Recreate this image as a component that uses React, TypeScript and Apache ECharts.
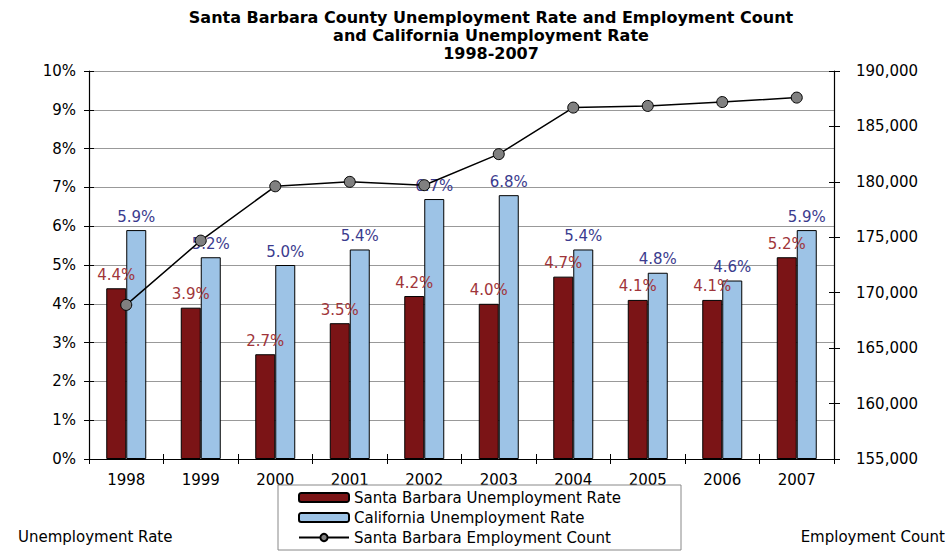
import React, { useEffect, useRef } from "react";
import * as echarts from "echarts";

const years = ["1998", "1999", "2000", "2001", "2002", "2003", "2004", "2005", "2006", "2007"];
const sbRate = [4.4, 3.9, 2.7, 3.5, 4.2, 4.0, 4.7, 4.1, 4.1, 5.2];
const caRate = [5.9, 5.2, 5.0, 5.4, 6.7, 6.8, 5.4, 4.8, 4.6, 5.9];
const sbEmployment = [168900, 174700, 179600, 180000, 179700, 182500, 186700, 186850, 187200, 187600];

const FONT = "DejaVu Sans";
const FS = 15;

export default function App() {
  const ref = useRef<HTMLDivElement>(null);
  useEffect(() => {
    if (!ref.current) return;
    const chart = echarts.init(ref.current, undefined, { renderer: "svg" });
    const axisCommon = {
      axisLine: { show: true, lineStyle: { color: "#000", width: 1.2 } },
    };
    chart.setOption({
      animation: false,
      backgroundColor: "#fff",
      title: {
        text: "Santa Barbara County Unemployment Rate and Employment Count\nand California Unemployment Rate\n1998-2007",
        left: 486,
        textAlign: "center",
        top: 3,
        textStyle: { fontFamily: FONT, fontWeight: "bold", fontSize: 16, lineHeight: 18, color: "#000" },
      },
      legend: {
        orient: "vertical",
        left: 278,
        top: 485,
        padding: [5, 60, 5, 20],
        itemGap: 5,
        itemWidth: 50,
        itemHeight: 9,
        borderColor: "#888",
        borderWidth: 1,
        textStyle: { fontFamily: FONT, fontSize: FS, color: "#000" },
        data: [
          { name: "Santa Barbara Unemployment Rate" },
          { name: "California Unemployment Rate" },
          { name: "Santa Barbara Employment Count" },
        ],
      },
      grid: { left: 89, right: 117, top: 71, bottom: 92 },
      xAxis: [
        {
          type: "category",
          data: years,
          position: "bottom",
          ...axisCommon,
          axisTick: { show: true, alignWithLabel: false, length: 5, lineStyle: { color: "#000" } },
          axisLabel: { fontFamily: FONT, fontSize: FS, color: "#000", margin: 13 },
        },
        {
          type: "category",
          data: years,
          position: "bottom",
          axisLine: { show: false },
          axisTick: { show: true, inside: true, length: 5, lineStyle: { color: "#000" } },
          axisLabel: { show: false },
        },
      ],
      yAxis: [
        {
          type: "value",
          min: 0,
          max: 10,
          interval: 1,
          position: "left",
          ...axisCommon,
          axisTick: { show: true, length: 5, lineStyle: { color: "#000" } },
          axisLabel: { fontFamily: FONT, fontSize: FS, color: "#000", margin: 13, formatter: "{value}%" },
          splitLine: { show: true, lineStyle: { color: "#999", width: 1 } },
        },
        {
          type: "value",
          min: 155000,
          max: 190000,
          interval: 5000,
          position: "right",
          ...axisCommon,
          axisTick: { show: true, length: 6, lineStyle: { color: "#000" } },
          axisLabel: {
            fontFamily: FONT,
            fontSize: FS,
            color: "#000",
            margin: 22,
            formatter: (v: number) => v.toLocaleString("en-US"),
          },
          splitLine: { show: false },
        },
        {
          type: "value",
          min: 0,
          max: 10,
          interval: 1,
          position: "left",
          axisLine: { show: false },
          axisTick: { show: true, inside: true, length: 5, lineStyle: { color: "#000" } },
          axisLabel: { show: false },
          splitLine: { show: false },
        },
        {
          type: "value",
          min: 155000,
          max: 190000,
          interval: 5000,
          position: "right",
          axisLine: { show: false },
          axisTick: { show: true, inside: true, length: 5, lineStyle: { color: "#000" } },
          axisLabel: { show: false },
          splitLine: { show: false },
        },
      ],
      series: [
        {
          name: "Santa Barbara Unemployment Rate",
          type: "bar",
          data: sbRate,
          barWidth: 20,
          barGap: "0%",
          itemStyle: { color: "#7B1416", borderColor: "#000", borderWidth: 1 },
          label: {
            show: true,
            position: "top",
            distance: 6,
            formatter: (p: any) => p.value.toFixed(1) + "%",
            fontFamily: FONT,
            fontSize: FS,
            color: "#A0353A",
          },
        },
        {
          name: "California Unemployment Rate",
          type: "bar",
          data: caRate,
          barWidth: 20,
          barGap: "0%",
          itemStyle: { color: "#9DC3E6", borderColor: "#000", borderWidth: 1 },
          label: {
            show: true,
            position: "top",
            distance: 6,
            formatter: (p: any) => p.value.toFixed(1) + "%",
            fontFamily: FONT,
            fontSize: FS,
            color: "#3B3B8E",
          },
        },
        {
          name: "Santa Barbara Employment Count",
          type: "line",
          yAxisIndex: 1,
          data: sbEmployment,
          symbol: "circle",
          symbolSize: 11,
          lineStyle: { color: "#000", width: 1.5 },
          itemStyle: { color: "#808080", borderColor: "#000", borderWidth: 1 },
          z: 5,
        },
      ],
      graphic: [
        {
          type: "text",
          left: 18,
          top: 529,
          style: { text: "Unemployment Rate", fontFamily: FONT, fontSize: FS, fill: "#000" },
        },
        {
          type: "text",
          right: 6,
          top: 529,
          style: { text: "Employment Count", fontFamily: FONT, fontSize: FS, fill: "#000" },
        },
      ],
    });
    return () => chart.dispose();
  }, []);
  return (
    <div
      ref={ref}
      style={{ position: "absolute", left: 0, top: 0, width: 951, height: 551 }}
    />
  );
}
